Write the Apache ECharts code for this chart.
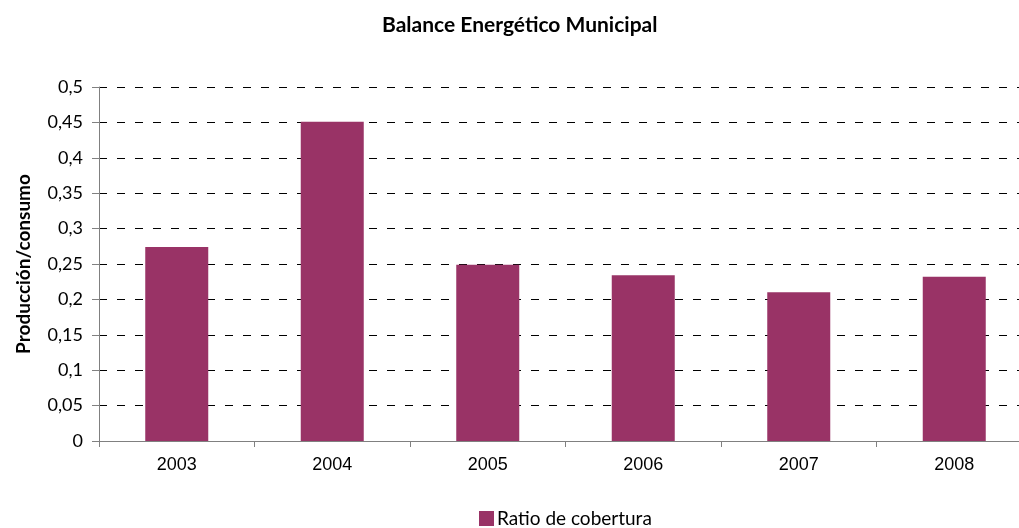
<!DOCTYPE html>
<html>
<head>
<meta charset="utf-8">
<script src="https://cdn.jsdelivr.net/npm/echarts@6/dist/echarts.min.js"></script>
<style>
  html, body { margin: 0; padding: 0; background: #fff; overflow: hidden; }
  /* el lienzo es algo más ancho que la ventana: la zona de trazado queda cortada a la derecha */
  #chart { width: 1040px; height: 528px; }
</style>
</head>
<body>
<div id="chart"></div>
<script>
// datos del gráfico
const years = ['2003', '2004', '2005', '2006', '2007', '2008'];
const ratio = [0.274, 0.451, 0.249, 0.234, 0.210, 0.232];
const seriesName = 'Ratio de cobertura';

const chart = echarts.init(document.getElementById('chart'));

const fmt = v => String(Math.round(v * 100) / 100).replace('.', ',');

chart.setOption({
    animation: false,
    title: {
        text: 'Balance Energético Municipal',
        left: 377,
        top: 10,
        textStyle: { fontFamily: 'Lato', fontSize: 21, fontWeight: 'bold', color: '#000' }
    },
    legend: {
        data: [seriesName],
        left: 474,
        top: 504,
        itemWidth: 15,
        itemHeight: 15,
        itemGap: 4,
        icon: 'rect',
        textStyle: { fontFamily: 'Lato', fontSize: 19, color: '#000', padding: [0, 0, 0, -2] }
    },
    grid: { left: 99, right: 8, top: 87, bottom: 87 },
    xAxis: {
        type: 'category',
        data: years,
        axisLine: { lineStyle: { color: '#808080', width: 1 } },
        axisTick: { show: true, length: 6, lineStyle: { color: '#808080' } },
        axisLabel: { fontFamily: 'Liberation Sans', fontSize: 18, color: '#000', margin: 15 }
    },
    yAxis: {
        type: 'value',
        min: 0,
        max: 0.5,
        interval: 0.05,
        name: 'Producción/consumo',
        nameLocation: 'middle',
        nameGap: 66,
        nameTextStyle: { fontFamily: 'Lato', fontSize: 19, fontWeight: 'bold', color: '#000' },
        axisLine: { show: true, lineStyle: { color: '#808080', width: 1 } },
        axisTick: { show: true, length: 7, lineStyle: { color: '#808080' } },
        axisLabel: { fontFamily: 'Lato', fontSize: 18, color: '#000', margin: 16, formatter: fmt },
        splitLine: { lineStyle: { color: '#000', type: [8, 10], width: 1 } }
    },
    series: [{
        name: seriesName,
        type: 'bar',
        data: ratio,
        barWidth: 63,
        itemStyle: { color: '#993366' }
    }]
});
</script>
</body>
</html>
